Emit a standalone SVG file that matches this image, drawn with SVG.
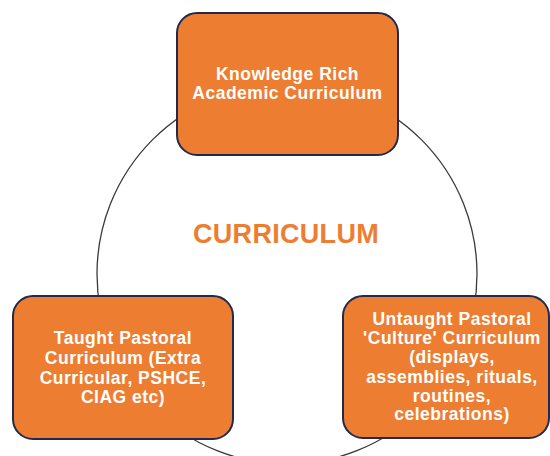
<svg xmlns="http://www.w3.org/2000/svg" width="550" height="456" viewBox="0 0 550 456">
<style>
.box{fill:#ED7D31;stroke:#1F2A4E;stroke-width:2}
.t{font-family:"Liberation Sans",Arial,sans-serif;font-weight:bold;font-size:17.5px;letter-spacing:0.5px;fill:#FFFFFF;text-anchor:middle}
.conn{fill:none;stroke:#3a3a3a;stroke-width:1.3}
</style>
<rect width="550" height="456" fill="#FFFFFF"/>
<g id="connectors">
<circle class="conn" cx="287" cy="274" r="190"/>
</g>
<g id="center">
<text x="286" y="243" font-family="Liberation Sans, Arial, sans-serif" font-weight="bold" font-size="27" letter-spacing="0.3" fill="#ED7D31" text-anchor="middle">CURRICULUM</text>
</g>
<g id="academic">
<rect class="box" x="177" y="13" width="221" height="142" rx="20"/>
<text class="t" x="287.5" y="80">Knowledge Rich</text>
<text class="t" x="287.5" y="98.5">Academic Curriculum</text>
</g>
<g id="taught">
<rect class="box" x="13" y="296" width="220" height="143" rx="20"/>
<text class="t" x="123" y="344">Taught Pastoral</text>
<text class="t" x="123" y="364">Curriculum (Extra</text>
<text class="t" x="123" y="384">Curricular, PSHCE,</text>
<text class="t" x="123" y="403">CIAG etc)</text>
</g>
<g id="untaught">
<rect class="box" x="343" y="296" width="206" height="142" rx="20"/>
<text class="t" x="452" y="325">Untaught Pastoral</text>
<text class="t" x="452" y="344">'Culture' Curriculum</text>
<text class="t" x="452" y="363">(displays,</text>
<text class="t" x="452" y="382.5">assemblies, rituals,</text>
<text class="t" x="452" y="401.5">routines,</text>
<text class="t" x="452" y="420">celebrations)</text>
</g>
</svg>
